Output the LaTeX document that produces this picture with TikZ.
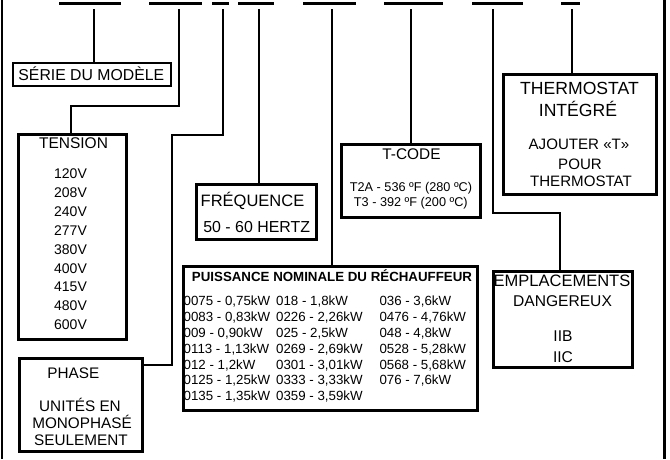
\documentclass[tikz,border=0pt]{standalone}
\usepackage{fontspec}
\setmainfont{Liberation Sans}
\begin{document}
\begin{tikzpicture}[x=1pt,y=-1pt,
  box/.style={draw, line width=2.6pt, inner sep=0pt, rectangle},
  lbl/.style 2 args={inner sep=0pt, text depth=0pt, font=\fontsize{#1pt}{#1pt}\selectfont, text height=#2pt},
  wire/.style={line width=2.6pt, line cap=butt, line join=miter},
  bar/.style={line width=3pt, line cap=butt}]
\useasboundingbox (0,0) rectangle (670,459);

% outer side lines
\draw[wire] (2,0) -- (2,459);
\draw[wire] (664.5,0) -- (664.5,459);

% top bars
\draw[bar] (59,3.2) -- (121,3.2);
\draw[bar] (149,3.2) -- (202,3.2);
\draw[bar] (212,3.2) -- (229,3.2);
\draw[bar] (238,3.2) -- (274,3.2);
\draw[bar] (303,3.2) -- (356,3.2);
\draw[bar] (384,3.2) -- (443,3.2);
\draw[bar] (472,3.2) -- (523,3.2);
\draw[bar] (561,3.2) -- (580,3.2);

% stem tops
\coordinate (s1) at (94,9);
\coordinate (s2) at (179,9);
\coordinate (s3) at (223,9);
\coordinate (s4) at (259,9);
\coordinate (s5) at (332,9);
\coordinate (s6) at (411,9);
\coordinate (s7) at (493,9);
\coordinate (s8) at (572,9);

% boxes
\node[box, minimum width=158pt, minimum height=23pt] (serie) at (92,74.5) {};
\node[box, minimum width=108.4pt, minimum height=205.4pt] (tension) at (72.5,237) {};
\node[box, minimum width=123.4pt, minimum height=93.4pt] (phase) at (81,405) {};
\node[box, minimum width=120.4pt, minimum height=55.4pt] (freq) at (256.5,212) {};
\node[box, minimum width=294.4pt, minimum height=144.4pt] (puiss) at (330.5,338.5) {};
\node[box, minimum width=139.4pt, minimum height=73.4pt] (tcode) at (411,181) {};
\node[box, minimum width=153.4pt, minimum height=120.4pt] (thermo) at (580,134.5) {};
\node[box, minimum width=139.4pt, minimum height=96.4pt] (emplac) at (563,319.5) {};

% bends
\coordinate (b2) at (71,106);
\coordinate (b3a) at (172,135);
\coordinate (b3b) at (172,365);
\coordinate (b7) at (560,213);

% connectors
\draw[wire] (s1) -- (s1 |- serie.north);
\draw[wire] (s2) |- (b2) -- (b2 |- tension.north);
\draw[wire] (s3) |- (b3a) -- (b3b) -- (b3b -| phase.east);
\draw[wire] (s4) -- (s4 |- freq.north);
\draw[wire] (s5) -- (s5 |- puiss.north);
\draw[wire] (s6) -- (s6 |- tcode.north);
\draw[wire] (s7) |- (b7) -- (b7 |- emplac.north);
\draw[wire] (s8) -- (s8 |- thermo.north);

% texts
\node[lbl={15.8}{11.3}] (tserie) at (91.3,74.5) {SÉRIE DU MODÈLE};

\node[lbl={15.5}{11.1}] (tten) at (73.5,143) {TENSION};
\foreach \v [count=\i] in {120V,208V,240V,277V,380V,400V,415V,480V,600V}
  \node[lbl={14}{10}] (tv\i) at (70.5,{173.7+18.875*(\i-1)}) {\v};

\node[lbl={15.3}{11}] (tph1) at (73.3,373.3) {PHASE};
\node[lbl={15.3}{11}] (tph2) at (80,406) {UNITÉS EN};
\node[lbl={15.3}{11}] (tph3) at (82,422.7) {MONOPHASÉ};
\node[lbl={15.3}{11}] (tph4) at (81,439.5) {SEULEMENT};

\node[lbl={16.5}{11.8}] (tfr1) at (252.5,200.5) {FRÉQUENCE};
\node[lbl={15.9}{11.4}] (tfr2) at (256.7,227.2) {50 - 60 HERTZ};

\node[lbl={13.3}{9.5}, font=\fontsize{13.3pt}{13.3pt}\selectfont\bfseries] (tpu) at (332,276.3) {PUISSANCE NOMINALE DU RÉCHAUFFEUR};
\foreach \a/\b/\c [count=\i] in {
  0075 - 0{,}75kW/018 - 1{,}8kW/036 - 3{,}6kW,
  0083 - 0{,}83kW/0226 - 2{,}26kW/0476 - 4{,}76kW,
  009 - 0{,}90kW/025 - 2{,}5kW/048 - 4{,}8kW,
  0113 - 1{,}13kW/0269 - 2{,}69kW/0528 - 5{,}28kW,
  012 - 1{,}2kW/0301 - 3{,}01kW/0568 - 5{,}68kW,
  0125 - 1{,}25kW/0333 - 3{,}33kW/076 - 7{,}6kW,
  0135 - 1{,}35kW/0359 - 3{,}59kW/{}}
{
  \node[lbl={13.3}{9.5}, anchor=west] (pa\i) at (183.5,{301+15.83*(\i-1)}) {\a};
  \node[lbl={13.3}{9.5}, anchor=west] (pb\i) at (276,{301+15.83*(\i-1)}) {\b};
  \node[lbl={13.3}{9.5}, anchor=west] (pc\i) at (379.3,{301+15.83*(\i-1)}) {\c};
}

\node[lbl={15.4}{11}] (ttc1) at (411.5,153.7) {T-CODE};
\node[lbl={12.7}{9.1}] (ttc2) at (411,186.7) {T2A - 536 ºF (280 ºC)};
\node[lbl={12.7}{9.1}] (ttc3) at (410.8,202.3) {T3 - 392 ºF (200 ºC)};

\node[lbl={17.6}{12.6}] (tth1) at (579.5,88.3) {THERMOSTAT};
\node[lbl={17.6}{12.6}] (tth2) at (578,110) {INTÉGRÉ};
\node[lbl={15.1}{10.8}] (tth3) at (579,144.5) {AJOUTER «T»};
\node[lbl={15.1}{10.8}] (tth4) at (580,163.8) {POUR};
\node[lbl={15.1}{10.8}] (tth5) at (581,181.3) {THERMOSTAT};

\node[lbl={16.5}{11.8}] (tem1) at (562,280.8) {EMPLACEMENTS};
\node[lbl={15.6}{11.2}] (tem2) at (562.5,300.5) {DANGEREUX};
\node[lbl={15.6}{11.2}] (tem3) at (563,335.8) {IIB};
\node[lbl={15.6}{11.2}] (tem4) at (563,356.5) {IIC};
\end{tikzpicture}
\end{document}
